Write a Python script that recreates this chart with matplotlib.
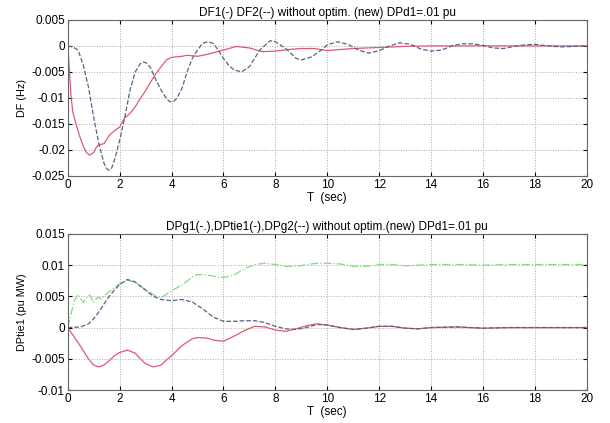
import matplotlib
matplotlib.use("Agg")
import matplotlib.pyplot as plt

plt.rcParams['font.family'] = ['Liberation Sans', 'DejaVu Sans']

# top panel: frequency deviations
t_df1 = [0, 0.03, 0.08, 0.13, 0.2, 0.32, 0.45, 0.58, 0.72, 0.84, 1.0, 1.1, 1.2, 1.4, 1.6,
         1.8, 2.0, 2.2, 2.4, 2.6, 2.8, 3.0, 3.2, 3.4, 3.6, 3.8, 4.0, 4.4, 4.6, 5.0, 5.4, 6.0,
         6.5, 7.0, 7.5, 8.0, 8.5, 9.0, 9.5, 10, 11, 12, 13, 14, 16, 18, 20]
df1 = [0, -0.002, -0.006, -0.0098, -0.0128, -0.015, -0.0172, -0.019, -0.0205, -0.021,
       -0.0205, -0.0195, -0.019, -0.0188, -0.0172, -0.0163, -0.0156, -0.0138, -0.013, -0.0117,
       -0.0101, -0.0086, -0.0069, -0.0053, -0.004, -0.0027, -0.0022, -0.002, -0.0018, -0.002,
       -0.0016, -0.0008, -0.0001, -0.0004, -0.0011, -0.001, -0.0007, -0.0005, -0.0005,
       -0.0009, -0.0005, -0.0003, -0.0001, 0, 0, 0, 0]

t_df2 = [0, 0.2, 0.4, 0.6, 0.8, 1.0, 1.2, 1.4, 1.5, 1.6, 1.7, 1.8, 2.0, 2.2, 2.4, 2.6, 2.8,
         2.9, 3.0, 3.1, 3.2, 3.4, 3.6, 3.8, 3.9, 4.0, 4.1, 4.2, 4.4, 4.6, 4.8, 5.0, 5.2, 5.4,
         5.6, 5.8, 6.0, 6.2, 6.4, 6.7, 7.0, 7.4, 7.8, 8.0, 8.4, 8.8, 9.0, 9.4, 9.8, 10, 10.4,
         10.8, 11.2, 11.6, 12, 12.4, 12.8, 13.2, 13.6, 14, 14.4, 14.8, 15.2, 15.6, 16, 16.4,
         16.8, 17.2, 17.6, 18, 18.5, 19, 19.5, 20]
df2 = [0, -0.0002, -0.0008, -0.0037, -0.0079, -0.0137, -0.0188, -0.0226, -0.0236, -0.0239,
       -0.0234, -0.022, -0.0182, -0.0137, -0.0085, -0.005, -0.0034, -0.0031, -0.0032,
       -0.0036, -0.0043, -0.0066, -0.0085, -0.0101, -0.0106, -0.0108, -0.0106, -0.0101,
       -0.0082, -0.005, -0.0024, -0.0008, 0.0005, 0.0008, 0.0005, -0.0008, -0.0024, -0.0037,
       -0.0046, -0.005, -0.004, -0.0008, 0.001, 0.0008, -0.0005, -0.0024, -0.0027, -0.0021,
       -0.0007, 0.0002, 0.0008, 0.0003, -0.0008, -0.0014, -0.0009, 0, 0.0006, 0.0003, -0.0006,
       -0.001, -0.0008, 0, 0.0004, 0.0004, 0.0001, -0.0004, -0.0005, -0.0001, 0.0002, 0.0003,
       0, -0.0002, -0.0001, 0]

# bottom panel: tie-line and generation deviations
t_tie = [0, 0.4, 0.8, 1.0, 1.2, 1.4, 1.6, 1.8, 2.0, 2.3, 2.6, 2.8, 3.0, 3.3, 3.6, 3.8, 4.0,
         4.4, 4.8, 5.0, 5.4, 5.6, 6.0, 6.4, 6.8, 7.2, 7.6, 8.0, 8.4, 8.8, 9.2, 9.6, 10, 10.5,
         11, 11.5, 12, 12.5, 13, 13.5, 14, 15, 16, 17, 20]
dptie1 = [0, -0.0024, -0.005, -0.006, -0.0063, -0.006, -0.0053, -0.0045, -0.004, -0.0036,
          -0.0041, -0.005, -0.0058, -0.0063, -0.006, -0.0052, -0.0045, -0.0029, -0.0018,
          -0.0016, -0.0017, -0.002, -0.0022, -0.0014, -0.0005, 0.0002, 0.0001, -0.0004,
          -0.0006, -0.0002, 0.0003, 0.0006, 0.0004, 0, -0.0003, -0.0001, 0.0002, 0.0002,
          -0.0001, -0.0002, 0, 0.0001, -0.0001, 0, 0]

t_g2 = [0, 0.5, 0.8, 1.0, 1.2, 1.4, 1.6, 1.8, 2.0, 2.3, 2.6, 2.8, 3.0, 3.3, 3.6, 4.0, 4.4,
        4.8, 5.2, 5.6, 6.0, 6.4, 6.8, 7.2, 7.6, 8.0, 8.4, 8.8, 9.2, 9.6, 10, 10.5, 11, 11.5,
        12, 12.5, 13, 13.5, 14, 15, 16, 17, 20]
dpg2 = [0, 0.0001, 0.0006, 0.0014, 0.0025, 0.0038, 0.005, 0.006, 0.0069, 0.0077, 0.0073,
        0.0066, 0.006, 0.005, 0.0045, 0.0043, 0.0045, 0.0041, 0.003, 0.0017, 0.001, 0.001,
        0.0011, 0.0011, 0.0008, 0.0002, -0.0002, -0.0003, 0, 0.0005, 0.0004, 0, -0.0003,
        -0.0001, 0.0002, 0.0002, -0.0001, -0.0002, 0, 0.0001, -0.0001, 0, 0]

t_g1 = [0, 0.1, 0.25, 0.4, 0.5, 0.6, 0.7, 0.85, 1.0, 1.15, 1.3, 1.5, 1.8, 2.0, 2.3, 2.6, 3.0,
        3.4, 3.6, 4.0, 4.4, 4.8, 5.0, 5.4, 5.8, 6.0, 6.4, 6.8, 7.2, 7.6, 8.0, 8.4, 8.8, 9.2,
        9.6, 10, 10.5, 11, 11.5, 12, 12.5, 13, 14, 15, 16, 17, 18, 20]
dpg1 = [0, 0.0017, 0.0043, 0.0053, 0.0046, 0.004, 0.0046, 0.0052, 0.004, 0.0049, 0.0046,
        0.0054, 0.0064, 0.007, 0.0076, 0.0073, 0.0061, 0.005, 0.0048, 0.0059, 0.0068, 0.0081,
        0.0085, 0.0084, 0.0081, 0.008, 0.0084, 0.0094, 0.0101, 0.0103, 0.0101, 0.0098, 0.0098,
        0.0101, 0.0103, 0.0103, 0.0102, 0.0098, 0.0098, 0.0101, 0.0101, 0.0099, 0.0101,
        0.0101, 0.01, 0.0101, 0.0101, 0.0101]

red = '#dc5a74'
blue = '#5c6088'
green = '#86d886'

fig = plt.figure(figsize=(6.1, 4.23), dpi=100)
ax1 = fig.add_axes([0.111, 0.584, 0.851, 0.369])
ax2 = fig.add_axes([0.111, 0.078, 0.851, 0.369])

ax1.plot(t_df1, df1, color=red, lw=0.9)
ax1.plot(t_df2, df2, color=blue, lw=0.9, ls='--')
ax1.set_ylim(-0.025, 0.005)
ax1.set_yticks([0.005, 0, -0.005, -0.01, -0.015, -0.02, -0.025])
ax1.set_yticklabels(['0.005', '0', '-0.005', '-0.01', '-0.015', '-0.02', '-0.025'])
ax1.set_ylabel('DF (Hz)', fontsize=7.8, labelpad=3)
ax1.set_title('DF1(-) DF2(--) without optim. (new) DPd1=.01 pu', fontsize=8.5, pad=3)

ax2.plot(t_g1, dpg1, color=green, lw=0.9, ls='-.')
ax2.plot(t_tie, dptie1, color=red, lw=0.9)
ax2.plot(t_g2, dpg2, color=blue, lw=0.9, ls='--')
ax2.set_ylim(-0.01, 0.015)
ax2.set_yticks([0.015, 0.01, 0.005, 0, -0.005, -0.01])
ax2.set_yticklabels(['0.015', '0.01', '0.005', '0', '-0.005', '-0.01'])
ax2.set_ylabel('DPtie1 (pu MW)', fontsize=7.8, labelpad=3)
ax2.set_title('DPg1(-.),DPtie1(-),DPg2(--) without optim.(new) DPd1=.01 pu', fontsize=8.5, pad=3)

for ax in (ax1, ax2):
    ax.set_xlim(0, 20)
    ax.set_xticks(range(0, 21, 2))
    ax.set_xlabel('T  (sec)', fontsize=8.5, labelpad=1)
    ax.grid(True, ls=':', color='#aaaaaa', lw=0.7)
    ax.tick_params(direction='in', labelsize=8.5, length=3, top=True, right=True,
                   labeltop=False, labelright=False, pad=2)
    for s in ax.spines.values():
        s.set_color('#666666')
        s.set_linewidth(0.8)

fig.savefig('out.png', dpi=100)
